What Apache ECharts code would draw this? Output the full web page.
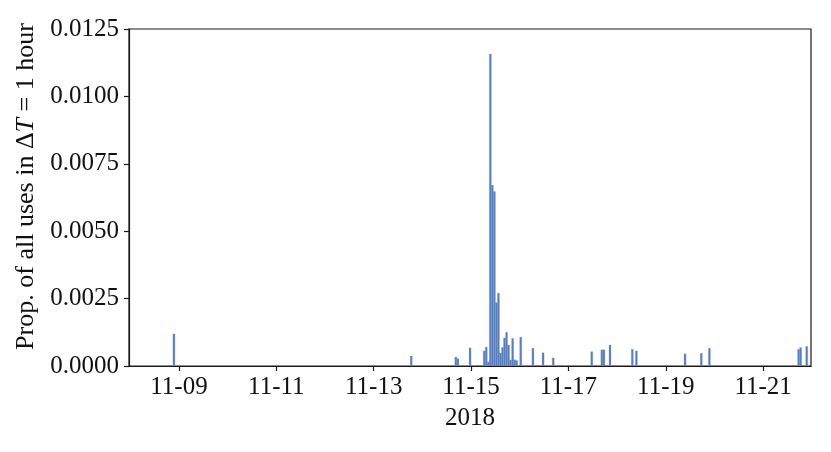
<!DOCTYPE html>
<html>
<head>
<meta charset="utf-8">
<script src="https://cdn.jsdelivr.net/npm/echarts@6/dist/echarts.min.js"></script>
<style>
  html, body { margin: 0; padding: 0; background: #fff; }
  #chart { width: 831px; height: 452px; }
</style>
</head>
<body>
<div id="chart"></div>
<script>
// start of each 1-hour bin (local time)
var binStarts = [
    '2018-11-08 21:00',
    '2018-11-13 18:00',
    '2018-11-14 16:00', '2018-11-14 17:00', '2018-11-14 23:00',
    '2018-11-15 06:00', '2018-11-15 07:00', '2018-11-15 08:00', '2018-11-15 09:00',
    '2018-11-15 10:00', '2018-11-15 11:00', '2018-11-15 12:00', '2018-11-15 13:00',
    '2018-11-15 14:00', '2018-11-15 15:00', '2018-11-15 16:00', '2018-11-15 17:00',
    '2018-11-15 18:00', '2018-11-15 19:00', '2018-11-15 20:00', '2018-11-15 21:00',
    '2018-11-15 22:00',
    '2018-11-16 00:00', '2018-11-16 06:00', '2018-11-16 11:00', '2018-11-16 16:00',
    '2018-11-17 11:00', '2018-11-17 16:00', '2018-11-17 17:00', '2018-11-17 20:00',
    '2018-11-18 07:00', '2018-11-18 09:00',
    '2018-11-19 09:00', '2018-11-19 17:00', '2018-11-19 21:00',
    '2018-11-21 17:00', '2018-11-21 18:00', '2018-11-21 21:00'
];
var propValues = [
    0.00119,
    0.00037,
    0.00033, 0.00027, 0.00067,
    0.00056, 0.00070, 0.00015, 0.01157,
    0.00671, 0.00647, 0.00235, 0.00270,
    0.00048, 0.00069, 0.00104, 0.00125,
    0.00078, 0.00022, 0.00102, 0.00023,
    0.00020,
    0.00107, 0.00066, 0.00049, 0.00030,
    0.00053, 0.00060, 0.00060, 0.00078,
    0.00062, 0.00056,
    0.00045, 0.00047, 0.00066,
    0.00062, 0.00068, 0.00073
];
var xTickLabels = ['2018-11-09', '2018-11-11', '2018-11-13', '2018-11-15', '2018-11-17', '2018-11-19', '2018-11-21'];

var HOUR = 3600 * 1000;
var FONT = '"Liberation Serif", "DejaVu Serif", serif';

// 'YYYY-MM-DD HH:mm' -> local timestamp
function toTime(s){
    var p = s.split(/[- :]/);
    return new Date(+p[0], +p[1] - 1, +p[2], +(p[3] || 0), +(p[4] || 0)).getTime();
}
function pad(n){ return n < 10 ? '0' + n : '' + n; }

var barData = [];
for (var i = 0; i < binStarts.length; i++) {
    barData.push([toTime(binStarts[i]), propValues[i]]);
}
var tickTimes = xTickLabels.map(toTime);

var xMin = toTime('2018-11-07 23:21');
var xMax = toTime('2018-11-21 23:36');

var myChart = echarts.init(document.getElementById('chart'), null, {renderer: 'canvas'});
myChart.setOption({
    animation: false,
    backgroundColor: '#fff',
    grid: {
        left: 129, right: 20, top: 29, bottom: 86,
        show: true, borderColor: '#1a1a1a', borderWidth: 1.2, backgroundColor: 'transparent'
    },
    xAxis: {
        type: 'value',
        min: xMin,
        max: xMax,
        scale: true,
        name: '2018',
        nameLocation: 'middle',
        nameGap: 40,
        nameTextStyle: { fontFamily: FONT, fontSize: 25, color: '#111' },
        axisLine: { show: true, onZero: false, lineStyle: { color: '#1a1a1a', width: 1.2 } },
        axisTick: { show: true, length: 5, lineStyle: { color: '#1a1a1a', width: 1.2 }, customValues: tickTimes },
        axisLabel: {
            customValues: tickTimes,
            margin: 9,
            showMinLabel: true, showMaxLabel: true, hideOverlap: false,
            fontFamily: FONT, fontSize: 25, color: '#111',
            formatter: function (v) {
                var d = new Date(v);
                return pad(d.getMonth() + 1) + '-' + pad(d.getDate());
            }
        },
        splitLine: { show: false }
    },
    yAxis: {
        type: 'value',
        min: 0,
        max: 0.0125,
        interval: 0.0025,
        name: 'Prop. of all uses in Δ{i|T} = 1 hour',
        nameLocation: 'middle',
        nameRotate: 90,
        nameGap: 82,
        nameTextStyle: {
            fontFamily: FONT, fontSize: 26, color: '#111',
            padding: [0, 0, 0, 22],
            rich: { i: { fontFamily: FONT, fontSize: 26, fontStyle: 'italic', color: '#111' } }
        },
        axisLine: { show: true, lineStyle: { color: '#1a1a1a', width: 1.2 } },
        axisTick: { show: true, length: 5, lineStyle: { color: '#1a1a1a', width: 1.2 } },
        axisLabel: {
            margin: 10,
            fontFamily: FONT, fontSize: 25, color: '#111',
            formatter: function (v) { return v.toFixed(4); }
        },
        splitLine: { show: false }
    },
    series: [{
        name: 'prop',
        type: 'custom',
        data: barData,
        renderItem: function (params, api) {
            var t = api.value(0);
            var p0 = api.coord([t, 0]);
            var p1 = api.coord([t + HOUR, api.value(1)]);
            return {
                type: 'rect',
                shape: { x: p0[0], y: p1[1], width: p1[0] - p0[0], height: p0[1] - p1[1] },
                style: { fill: '#5a7cb8', stroke: '#7f9bcb', lineWidth: 0.3 }
            };
        },
        clip: true
    }]
});
</script>
</body>
</html>
